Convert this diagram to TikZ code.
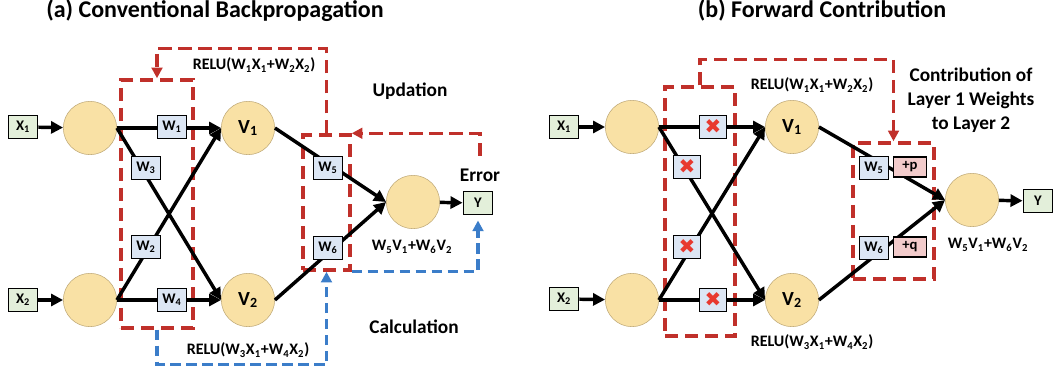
\documentclass[tikz,border=0pt]{standalone}
\usepackage{fontspec}
\setmainfont{Carlito}
\newfontfamily\symfont{DejaVu Sans}
\usetikzlibrary{arrows.meta,positioning}
\definecolor{neuronfill}{HTML}{F9E1A5}
\definecolor{neurondraw}{HTML}{BFA977}
\definecolor{inputfill}{HTML}{E3EFDA}
\definecolor{weightfill}{HTML}{DCE6F4}
\definecolor{deltafill}{HTML}{F2CBCB}
\definecolor{loopred}{HTML}{C0302A}
\definecolor{loopblue}{HTML}{3B7DC9}
\definecolor{crossred}{HTML}{E8392F}

\begin{document}
\begin{tikzpicture}[x=0.75pt,y=-0.75pt,
        font=\bfseries,
        neuron/.style={circle,draw=neurondraw,fill=neuronfill,minimum size=40pt,inner sep=0pt,font=\bfseries\fontsize{15}{15}\selectfont},
        inbox/.style={rectangle,draw,line width=1.2pt,fill=inputfill,minimum width=22pt,minimum height=17pt,inner sep=0pt,font=\bfseries\fontsize{11}{11}\selectfont},
        wbox/.style={inbox,fill=weightfill},
        xbox/.style={wbox,minimum width=20pt,font=\symfont\fontsize{15}{15}\selectfont\color{crossred}},
        dbox/.style={inbox,fill=deltafill,minimum width=25pt,minimum height=15pt},
        layer/.style={rectangle,draw=loopred,line width=2.6pt,dash pattern=on 10pt off 5pt,inner sep=0pt},
        conn/.style={line width=2.6pt,-{Triangle[length=9pt,width=9pt]}},
        redloop/.style={draw=loopred,line width=2.6pt,dash pattern=on 10pt off 5pt,-{Triangle[length=8pt,width=8pt]}},
        blueloop/.style={draw=loopblue,line width=2.6pt,dash pattern=on 8pt off 4pt,-{Triangle[length=8pt,width=8pt]}},
        note/.style={font=\bfseries\fontsize{14.5}{18}\selectfont,align=center},
        eqn/.style={font=\bfseries\fontsize{12}{12}\selectfont},
        heading/.style={font=\bfseries\fontsize{18}{18}\selectfont,anchor=base}
    ]
    \useasboundingbox (0,0) rectangle (1053,373);

    % (a) conventional backpropagation
    \node[heading] (titlea) at (215,18) {(a) Conventional Backpropagation};
    \node[layer,minimum width=54pt,minimum height=186pt] (l1a) at (157,204) {};
    \node[layer,minimum width=35.25pt,minimum height=101.25pt] (l2a) at (326.5,202.5) {};
    \node[inbox] (x1a) at (23,127) {X\textsubscript{1}};
    \node[inbox] (x2a) at (23,300) {X\textsubscript{2}};
    \node[neuron] (i1a) at (90,128) {};
    \node[neuron] (i2a) at (90,300) {};
    \node[neuron] (v1a) at (248,128) {V\textsubscript{1}};
    \node[neuron] (v2a) at (248,300) {V\textsubscript{2}};
    \node[neuron] (oa) at (413,202) {};
    \node[inbox] (ya) at (478,203) {Y};
    \draw[conn] (x1a) -- (i1a);
    \draw[conn] (x2a) -- (i2a);
    \draw[conn] (i1a.east) -- (v1a.west);
    \draw[conn] (i1a.east) -- (v2a.west);
    \draw[conn] (i2a.east) -- (v1a.west);
    \draw[conn] (i2a.east) -- (v2a.west);
    \draw[conn] (v1a.east) -- (oa.west);
    \draw[conn] (v2a.east) -- (oa.west);
    \draw[conn] (oa) -- (ya);
    \node[wbox] (w1a) at (172,127) {W\textsubscript{1}};
    \node[wbox] (w3a) at (146,168) {W\textsubscript{3}};
    \node[wbox] (w2a) at (146,247) {W\textsubscript{2}};
    \node[wbox] (w4a) at (172,300) {W\textsubscript{4}};
    \node[wbox] (w5a) at (328,168) {W\textsubscript{5}};
    \node[wbox] (w6a) at (328,248) {W\textsubscript{6}};
    \node[eqn] (relu1a) at (254,65) {RELU(W\textsubscript{1}X\textsubscript{1}+W\textsubscript{2}X\textsubscript{2})};
    \node[eqn] (relu2a) at (248,350) {RELU(W\textsubscript{3}X\textsubscript{1}+W\textsubscript{4}X\textsubscript{2})};
    \node[eqn] (suma) at (412,247) {W\textsubscript{5}V\textsubscript{1}+W\textsubscript{6}V\textsubscript{2}};
    \node[note] (upd) at (410,91) {Updation};
    \node[note] (calc) at (414,327) {Calculation};
    \node[note] (err) at (480,175) {Error};
    \coordinate (errtop) at (480,156);
    \draw[redloop] (l2a.north) -- ++(0,-85) -| (l1a.north);
    \draw[redloop] (errtop) |- (l2a.north east);
    \draw[blueloop] (l1a.south) -- ++(0,35) -| (l2a.south);
    \draw[blueloop,shorten >=4pt] (l2a.south east) -| (ya.south);

    % (b) forward contribution
    \node[heading] (titleb) at (822,18) {(b) Forward Contribution};
    \node[layer,minimum width=52.5pt,minimum height=186.75pt] (l1b) at (700,211.5) {};
    \node[layer,minimum width=60.75pt,minimum height=102pt] (l2b) at (893.5,211) {};
    \node[inbox] (x1b) at (564,127) {X\textsubscript{1}};
    \node[inbox] (x2b) at (564,299) {X\textsubscript{2}};
    \node[neuron] (i1b) at (632,127) {};
    \node[neuron] (i2b) at (632,300) {};
    \node[neuron] (v1b) at (792,127) {V\textsubscript{1}};
    \node[neuron] (v2b) at (792,300) {V\textsubscript{2}};
    \node[neuron] (ob) at (972,200) {};
    \node[inbox] (yb) at (1038,201) {Y};
    \draw[conn] (x1b) -- (i1b);
    \draw[conn] (x2b) -- (i2b);
    \draw[conn] (i1b.east) -- (v1b.west);
    \draw[conn] (i1b.east) -- (v2b.west);
    \draw[conn] (i2b.east) -- (v1b.west);
    \draw[conn] (i2b.east) -- (v2b.west);
    \draw[conn] (v1b.east) -- (ob.west);
    \draw[conn] (v2b.east) -- (ob.west);
    \draw[conn] (ob) -- (yb);
    \node[xbox] (c1b) at (713,127) {✖};
    \node[xbox] (c3b) at (687,167) {✖};
    \node[xbox] (c2b) at (687,247) {✖};
    \node[xbox] (c4b) at (713,300) {✖};
    \node[wbox] (w5b) at (874,168) {W\textsubscript{5}};
    \node[dbox] (pb) at (910,167) {+p};
    \node[wbox] (w6b) at (874,248) {W\textsubscript{6}};
    \node[dbox] (qb) at (910,247) {+q};
    \node[eqn] (relu1b) at (812,85) {RELU(W\textsubscript{1}X\textsubscript{1}+W\textsubscript{2}X\textsubscript{2})};
    \node[eqn] (relu2b) at (812,342) {RELU(W\textsubscript{3}X\textsubscript{1}+W\textsubscript{4}X\textsubscript{2})};
    \node[eqn] (sumb) at (988,245) {W\textsubscript{5}V\textsubscript{1}+W\textsubscript{6}V\textsubscript{2}};
    \node[note] (contrib) at (971,100) {Contribution of\\Layer 1 Weights\\to Layer 2};
    \draw[redloop] (l1b.north) -- ++(0,-26) -| (l2b.north);
\end{tikzpicture}
\end{document}
